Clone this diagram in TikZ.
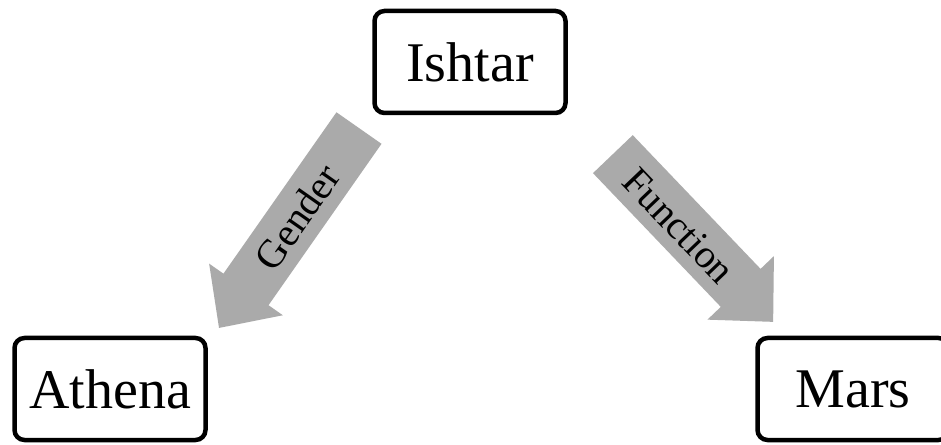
\documentclass[tikz,border=0pt]{standalone}
\usepackage{fontspec}
\setmainfont{Liberation Serif}
\begin{document}
\begin{tikzpicture}[x=1pt,y=1pt,
  godbox/.style={draw=black, line width=4.5pt, rounded corners=10pt, fill=white,
    minimum width=191pt, minimum height=102pt, inner sep=0pt,
    font=\fontsize{56}{62}\selectfont},
  blockarrow/.style={fill=arrowgray, draw=none},
  arrowlabel/.style={font=\fontsize{40}{44}\selectfont, inner sep=0pt}]
\definecolor{arrowgray}{RGB}{170,170,170}
\clip (0,0) rectangle (941,444);
\fill[white] (0,0) rectangle (941,444);

% the three deities
\node[godbox] (ishtar) at (470,382) {Ishtar};
\node[godbox] (athena) at (110,55) {Athena};
\node[godbox] (mars) at (853,55) {Mars};

% block arrow towards Athena
\begin{scope}[shift={(289,216)}, rotate=55]
  \fill[blockarrow] (122,27.5) -- (-75,27.5) -- (-75,45) -- (-122,0)
    -- (-75,-45) -- (-75,-27.5) -- (122,-27.5) -- cycle;
\end{scope}
\node[arrowlabel, rotate=55] (gender) at (297,227) {Gender};

% block arrow towards Mars
\begin{scope}[shift={(693,206)}, rotate=-46.3]
  \fill[blockarrow] (-116,27.5) -- (69,27.5) -- (69,46) -- (116,0)
    -- (69,-46) -- (69,-27.5) -- (-116,-27.5) -- cycle;
\end{scope}
\node[arrowlabel, rotate=-46.3] (function) at (679,218) {Function};
\end{tikzpicture}
\end{document}
